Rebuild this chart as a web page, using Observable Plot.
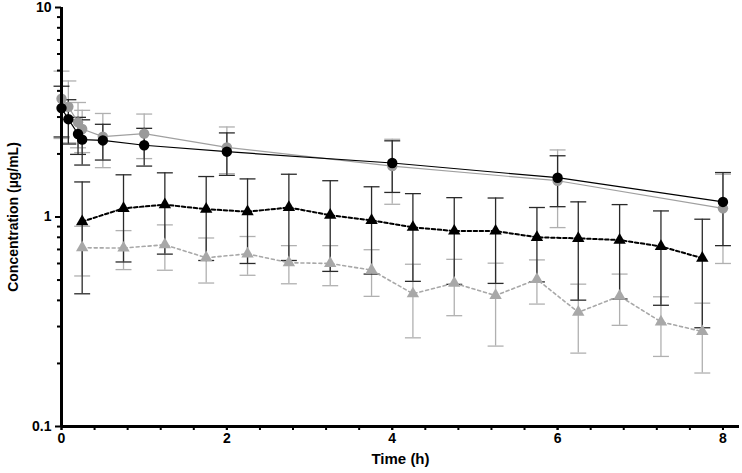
<!DOCTYPE html>
<html><head><meta charset="utf-8">
<script src="https://cdn.jsdelivr.net/npm/d3@7"></script>
<script src="https://cdn.jsdelivr.net/npm/@observablehq/plot@0.6"></script>
<style>body{margin:0;background:#fff}</style>
</head><body><div id="chart"></div>
<script>
const tCirc = [0, 0.083, 0.2, 0.25, 0.5, 1, 2, 4, 6, 8];
const blackCirc = [3.31, 2.93, 2.49, 2.34, 2.32, 2.20, 2.05, 1.81, 1.54, 1.18];
const blackCircSD = [0.9, 0.7, 0.5, 0.57, 0.45, 0.45, 0.47, 0.5, 0.42, 0.45];
const grayCirc = [3.67, 3.36, 2.83, 2.63, 2.42, 2.50, 2.15, 1.75, 1.49, 1.10];
const grayCircSD = [1.3, 1.1, 0.69, 0.6, 0.7, 0.6, 0.54, 0.6, 0.6, 0.5];

const tTri = [0.25, 0.75, 1.25, 1.75, 2.25, 2.75, 3.25, 3.75, 4.25, 4.75, 5.25, 5.75, 6.25, 6.75, 7.25, 7.75];
const blackTri = [0.95, 1.10, 1.145, 1.09, 1.06, 1.11, 1.02, 0.964, 0.893, 0.857, 0.857, 0.80, 0.791, 0.776, 0.724, 0.636];
const blackTriSD = [0.52, 0.49, 0.48, 0.47, 0.46, 0.49, 0.47, 0.43, 0.40, 0.38, 0.375, 0.31, 0.39, 0.37, 0.345, 0.34];
const grayTri = [0.713, 0.711, 0.737, 0.639, 0.667, 0.605, 0.600, 0.558, 0.430, 0.483, 0.422, 0.504, 0.351, 0.419, 0.316, 0.284];
const grayTriSD = [0.19, 0.15, 0.18, 0.155, 0.14, 0.125, 0.13, 0.14, 0.165, 0.145, 0.18, 0.12, 0.127, 0.115, 0.1, 0.104];

const yMajor = [0.1, 1, 10];
const yMajorLabels = ["0.1", "1", "10"];
const xMajor = [0, 2, 4, 6, 8];
const xMinor = d3.range(0, 8.01, 0.4);
const yMinor = [0.1, 1].flatMap(d => d3.range(2, 10).map(k => k * d));

const mk = (t, v, sd) => t.map((x, i) => ({x, y: v[i], lo: v[i] - sd[i], hi: v[i] + sd[i]}));
const bc = mk(tCirc, blackCirc, blackCircSD);
const gc = mk(tCirc, grayCirc, grayCircSD);
const bt = mk(tTri, blackTri, blackTriSD);
const gt = mk(tTri, grayTri, grayTriSD);

const capSym = {draw(ctx, size) { const w = Math.sqrt(size); ctx.moveTo(-w, 0); ctx.lineTo(w, 0); }};

function errBars(data, color) {
  return [
    Plot.ruleX(data, {x: "x", y1: "lo", y2: "hi", stroke: color, strokeWidth: 1.3}),
    Plot.dot(data, {x: "x", y: "hi", symbol: capSym, r: 4.5, stroke: color, strokeWidth: 1.3, fill: "none"}),
    Plot.dot(data, {x: "x", y: "lo", symbol: capSym, r: 4.5, stroke: color, strokeWidth: 1.3, fill: "none"})
  ];
}

const FONT = "'Liberation Sans Narrow', 'Arial Narrow', 'Liberation Sans', Arial, sans-serif";
const blank = () => "";

const chart = Plot.plot({
  width: 742,
  height: 473,
  marginLeft: 61,
  marginRight: 3,
  marginTop: 7,
  marginBottom: 47,
  style: {fontFamily: FONT, fontWeight: "bold", fontSize: "14px", color: "#000", background: "#fff", overflow: "visible"},
  x: {domain: [0, 8.2]},
  y: {type: "log", domain: [0.1, 10]},
  marks: [
    ...errBars(gt, "#b0b0b0"),
    ...errBars(gc, "#b0b0b0"),
    ...errBars(bt, "#2a2a2a"),
    ...errBars(bc, "#2a2a2a"),
    Plot.line(gt, {x: "x", y: "y", stroke: "#a8a8a8", strokeWidth: 1.6, strokeDasharray: "3,3"}),
    Plot.dot(gt, {x: "x", y: "y", symbol: "triangle", r: 4.6, fill: "#a8a8a8"}),
    Plot.line(gc, {x: "x", y: "y", stroke: "#a0a0a0", strokeWidth: 1.2}),
    Plot.dot(gc, {x: "x", y: "y", r: 5.2, fill: "#9a9a9a"}),
    Plot.line(bt, {x: "x", y: "y", stroke: "#000", strokeWidth: 2, strokeDasharray: "3.5,2.5"}),
    Plot.dot(bt, {x: "x", y: "y", symbol: "triangle", r: 4.6, fill: "#000"}),
    Plot.line(bc, {x: "x", y: "y", stroke: "#000", strokeWidth: 1.2}),
    Plot.dot(bc, {x: "x", y: "y", r: 5.2, fill: "#000"}),
    Plot.axisY(yMinor, {tickSize: 4, strokeWidth: 2, tickFormat: blank, label: null}),
    Plot.axisY(yMajor, {tickSize: 6, strokeWidth: 2, tickPadding: 4, tickFormat: (d, i) => yMajorLabels[yMajor.indexOf(d)], label: null, fontSize: 14}),
    Plot.axisX(xMinor, {tickSize: 4, strokeWidth: 2, tickFormat: blank, label: null}),
    Plot.axisX(xMajor, {tickSize: 4, strokeWidth: 2, tickPadding: 3, tickFormat: d => String(d), label: null, fontSize: 14}),
    Plot.ruleX([0], {strokeWidth: 3, stroke: "#000"}),
    Plot.ruleY([0.1], {strokeWidth: 3, stroke: "#000"}),
    Plot.text(["Concentration (µg/mL)"], {frameAnchor: "left", textAnchor: "middle", rotate: -90, dx: -48, fontSize: 14, fontWeight: "bold", fill: "#000"}),
    Plot.text(["Time (h)"], {frameAnchor: "bottom", dy: 37, fontSize: 15, fontWeight: "bold", fill: "#000"})
  ]
});
document.getElementById("chart").appendChild(chart);
</script>
</body></html>
